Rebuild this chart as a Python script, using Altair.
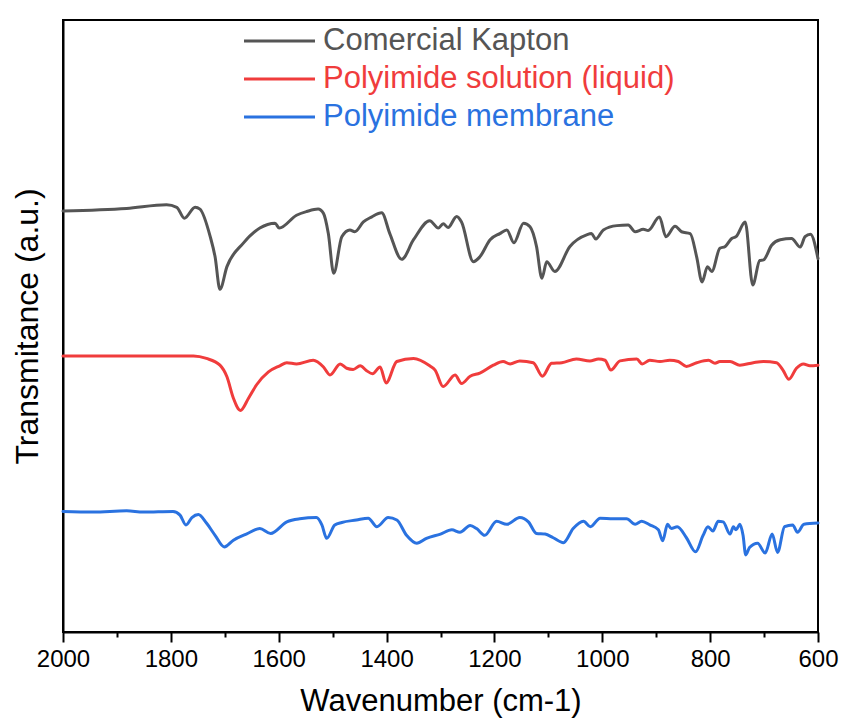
import altair as alt
import pandas as pd

# FTIR spectra, wavenumber (cm-1) vs transmittance (a.u., stacked offsets)
series_names = ["Comercial Kapton", "Polyimide solution (liquid)", "Polyimide membrane"]
series_colors = ["#555555", "#f03c3c", "#2a72e0"]

wn_kapton = [2000, 1882, 1808, 1789, 1775, 1755, 1746, 1727, 1718, 1709, 1696, 1666, 1635, 1607, 1599,
             1567, 1548, 1527, 1517, 1508, 1498, 1483, 1468, 1459, 1443, 1428, 1409, 1394, 1372, 1350,
             1320, 1304, 1295, 1286, 1270, 1261, 1239, 1227, 1208, 1190, 1177, 1164, 1146, 1134, 1122,
             1112, 1103, 1088, 1060, 1029, 1020, 1012, 998, 973, 952, 939, 924, 915, 894, 882,
             865, 853, 837, 825, 815, 805, 797, 782, 772, 760, 752, 735, 721, 708, 701,
             686, 670, 649, 633, 624, 614, 600]
t_kapton = [68.8, 69.2, 69.8, 69.4, 67.6, 69.4, 69.1, 64.6, 61.3, 56.0, 59.7, 63.5, 66.0, 66.8, 66.0,
            68.1, 68.7, 69.1, 68.4, 65.1, 58.6, 64.6, 65.7, 65.4, 67.0, 67.8, 68.5, 65.1, 60.9, 64.1,
            67.2, 66.0, 66.7, 66.1, 67.9, 67.0, 60.5, 61.3, 64.1, 65.1, 65.7, 63.6, 66.8, 66.2, 63.0,
            57.8, 60.5, 58.9, 63.0, 64.9, 65.1, 64.2, 65.7, 66.4, 66.5, 65.4, 65.8, 65.6, 67.8, 64.6,
            66.3, 65.4, 65.1, 61.3, 57.2, 59.7, 58.9, 62.7, 63.0, 64.3, 64.6, 67.0, 56.7, 60.7, 60.8,
            63.2, 64.1, 64.3, 62.9, 64.6, 65.0, 61.0]

wn_solution = [2000, 1758, 1734, 1709, 1696, 1684, 1671, 1656, 1641, 1619, 1598, 1585, 1567, 1536, 1517,
               1505, 1486, 1474, 1462, 1449, 1437, 1426, 1412, 1401, 1381, 1350, 1320, 1310, 1295, 1273,
               1261, 1245, 1227, 1202, 1184, 1171, 1153, 1128, 1111, 1094, 1075, 1048, 1023, 1007, 995,
               984, 967, 936, 926, 912, 893, 875, 859, 844, 825, 803, 791, 782, 763, 745,
               720, 701, 677, 665, 654, 640, 627, 615, 600]
t_solution = [45.1, 45.1, 44.7, 43.6, 41.7, 38.2, 36.2, 38.2, 40.4, 42.5, 43.5, 44.0, 43.8, 44.4, 43.3,
              42.0, 43.8, 43.1, 42.9, 43.5, 42.7, 42.2, 43.3, 40.7, 44.2, 44.7, 43.5, 42.8, 40.1, 42.0,
              40.6, 41.8, 42.3, 43.6, 44.2, 43.8, 44.3, 44.0, 41.8, 43.9, 44.0, 44.6, 44.3, 44.6, 44.4,
              42.8, 44.3, 44.6, 43.8, 44.4, 44.2, 44.4, 44.2, 43.4, 44.0, 44.4, 43.9, 44.2, 44.2, 43.6,
              44.0, 44.2, 44.0, 42.8, 41.3, 43.1, 43.8, 43.5, 43.6]

wn_membrane = [2000, 1944, 1882, 1851, 1796, 1783, 1772, 1761, 1749, 1734, 1718, 1701, 1684, 1660, 1635,
               1615, 1585, 1561, 1530, 1520, 1511, 1496, 1483, 1456, 1434, 1418, 1397, 1381, 1363, 1344,
               1326, 1300, 1279, 1264, 1245, 1233, 1218, 1196, 1177, 1153, 1137, 1122, 1106, 1091, 1072,
               1054, 1035, 1022, 1004, 980, 955, 939, 927, 912, 896, 888, 879, 872, 861, 844,
               827, 813, 804, 795, 785, 776, 763, 757, 752, 745, 739, 734, 727, 712, 698,
               685, 675, 662, 647, 638, 626, 600]
t_membrane = [19.7, 19.6, 19.8, 19.6, 19.7, 19.1, 17.5, 18.7, 19.2, 17.8, 15.8, 13.9, 15.0, 16.0, 16.9,
              16.1, 18.0, 18.5, 18.7, 17.5, 15.3, 17.5, 17.9, 18.3, 18.6, 17.2, 18.7, 18.3, 15.8, 14.5,
              15.3, 16.0, 16.7, 16.3, 17.4, 16.9, 15.8, 18.1, 17.6, 18.7, 18.0, 16.1, 16.0, 15.4, 14.6,
              16.9, 18.1, 17.2, 18.6, 18.5, 18.5, 17.6, 18.1, 17.5, 16.7, 14.9, 17.6, 16.9, 17.2, 15.4,
              13.1, 15.8, 17.2, 16.5, 18.1, 18.0, 16.0, 17.2, 16.7, 17.6, 15.8, 12.6, 13.8, 14.5, 12.9,
              16.0, 13.0, 17.2, 17.5, 16.3, 17.6, 17.8]

x_ticks = list(range(2000, 599, -100))

FONT = "Liberation Sans"

frames = []
for name, wn, t in zip(series_names,
                       [wn_kapton, wn_solution, wn_membrane],
                       [t_kapton, t_solution, t_membrane]):
    frames.append(pd.DataFrame({"wavenumber": wn, "transmittance": t, "sample": name}))
spectra = pd.concat(frames, ignore_index=True)

x_axis = alt.Axis(
    title="Wavenumber (cm-1)",
    values=x_ticks,
    format="d",
    labelExpr="datum.value % 200 === 0 ? datum.label : ''",
    labelOverlap=False,
    labelFlush=False,
    grid=False,
    domainColor="black",
    domainWidth=2,
    tickColor="black",
    tickWidth=2,
    tickSize={"condition": {"test": "datum.value % 200 === 0", "value": 10}, "value": 5},
    labelFont=FONT,
    labelFontSize=24,
    labelColor="black",
    labelPadding=5,
    titleFont=FONT,
    titleFontSize=31,
    titleFontWeight="normal",
    titleColor="black",
    titlePadding=15,
)

y_axis = alt.Axis(
    title="Transmitance (a.u.)",
    labels=False,
    ticks=False,
    grid=False,
    domainColor="black",
    domainWidth=2,
    titleFont=FONT,
    titleFontSize=32,
    titleFontWeight="normal",
    titleColor="black",
    titlePadding=19,
)

lines = alt.Chart(spectra).mark_line(
    strokeWidth=3, interpolate="monotone", strokeJoin="round", strokeCap="round"
).encode(
    x=alt.X("wavenumber:Q", scale=alt.Scale(domain=[600, 2000], reverse=True, nice=False), axis=x_axis),
    y=alt.Y("transmittance:Q", scale=alt.Scale(domain=[0, 100], nice=False), axis=y_axis),
    color=alt.Color("sample:N", scale=alt.Scale(domain=series_names, range=series_colors), legend=None),
    detail="sample:N",
)

# In-plot legend: a short line swatch followed by a label in the series colour
legend_layers = []
row_y = [21, 59, 97]
for name, color, ypos in zip(series_names, series_colors, row_y):
    entry = pd.DataFrame({"sample": [name]})
    legend_layers.append(
        alt.Chart(entry).mark_rule(color=color, strokeWidth=3).encode(
            x=alt.value(181), x2=alt.value(252), y=alt.value(ypos)
        )
    )
    legend_layers.append(
        alt.Chart(entry).mark_text(
            align="left", baseline="middle", font=FONT, fontSize=31, color=color
        ).encode(x=alt.value(260), y=alt.value(ypos), text="sample:N")
    )

chart = alt.layer(lines, *legend_layers).properties(
    width=755,
    height=612,
    autosize=alt.AutoSizeParams(type="none"),
    padding={"left": 63, "top": 20, "right": 24, "bottom": 90},
    background="white",
).configure_view(stroke="black", strokeWidth=2)

chart.save("out.html", embed_options={"renderer": "svg", "actions": False})
